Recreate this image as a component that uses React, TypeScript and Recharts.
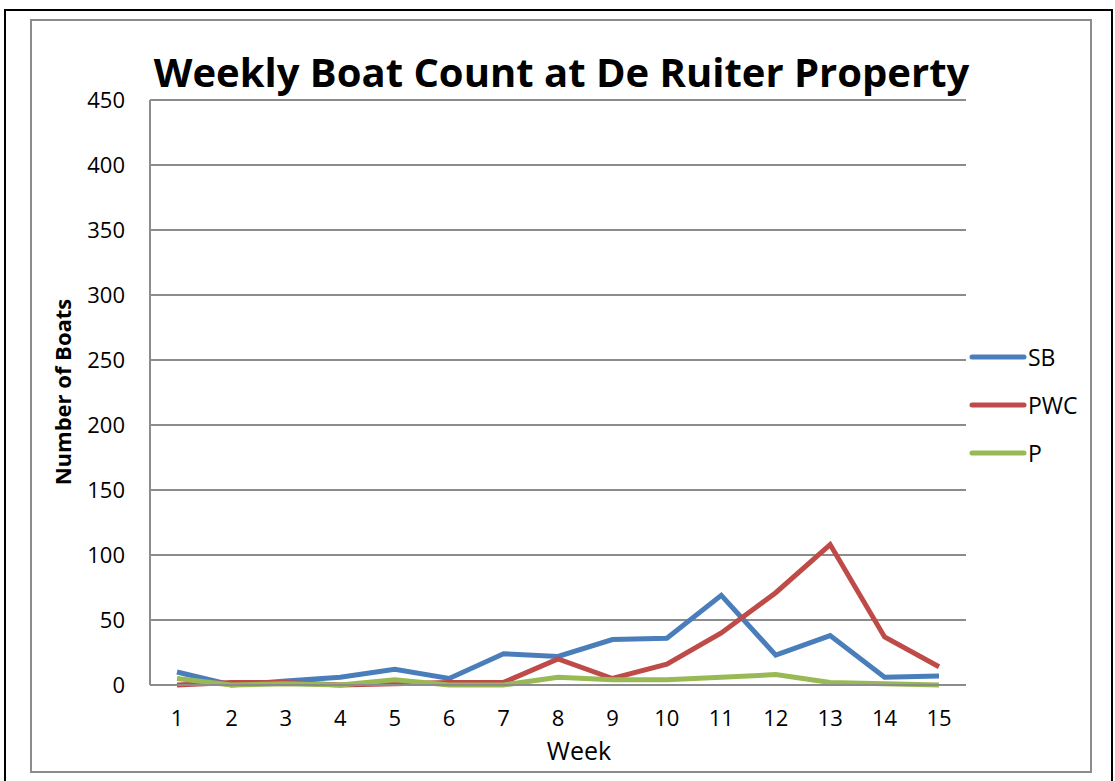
import { LineChart, Line, XAxis, YAxis, CartesianGrid } from "recharts";

const weeks = ["1", "2", "3", "4", "5", "6", "7", "8", "9", "10", "11", "12", "13", "14", "15"];
const sb = [10, 0, 3, 6, 12, 5, 24, 22, 35, 36, 69, 23, 38, 6, 7];
const pwc = [0, 2, 2, 0, 1, 2, 2, 20, 5, 16, 40, 71, 108, 37, 14];
const p = [5, 0, 1, 0, 4, 0, 0, 6, 4, 4, 6, 8, 2, 1, 0];
const yTicks = [0, 50, 100, 150, 200, 250, 300, 350, 400, 450];

const series = [
  { key: "SB", color: "#4A7EBB" },
  { key: "PWC", color: "#BE4B48" },
  { key: "P", color: "#98B954" },
];

const font = "'Open Sans', sans-serif";

const LegendBox = () => (
  <div style={{ fontFamily: font, fontSize: 23, color: "#000" }}>
    {series.map((s) => (
      <div key={s.key} style={{ display: "flex", alignItems: "center", height: 48 }}>
        <svg width={58} height={10}>
          <line x1={3} y1={5} x2={55} y2={5} stroke={s.color} strokeWidth={5} strokeLinecap="round" />
        </svg>
        <span style={{ marginLeft: 1 }}>{s.key}</span>
      </div>
    ))}
  </div>
);

const App = () => {
  const data = weeks.map((w, i) => ({ week: w, SB: sb[i], PWC: pwc[i], P: p[i] }));

  return (
    <div style={{ position: "absolute", left: 0, top: 0, width: 1115, height: 781, background: "#fff", overflow: "hidden" }}>
      {/* outer black frame */}
      <div style={{ position: "absolute", left: 4, top: 9, width: 1109, height: 790, border: "2px solid #000", boxSizing: "border-box" }} />
      {/* chart area frame */}
      <div style={{ position: "absolute", left: 30, top: 19, width: 1062, height: 754, border: "2px solid #8c8c8c", boxSizing: "border-box" }} />

      <div
        style={{
          position: "absolute",
          left: 0,
          width: 1123,
          top: 44,
          textAlign: "center",
          fontFamily: font,
          fontWeight: 700,
          fontSize: 40,
          lineHeight: "56px",
          color: "#000",
        }}
      >
        Weekly Boat Count at De Ruiter Property
      </div>

      <div
        style={{
          position: "absolute",
          left: 62,
          top: 392,
          transform: "translate(-50%, -50%) rotate(-90deg)",
          fontFamily: font,
          fontWeight: 700,
          fontSize: 22,
          whiteSpace: "nowrap",
        }}
      >
        Number of Boats
      </div>

      <div
        style={{
          position: "absolute",
          left: 579,
          top: 750,
          transform: "translate(-50%, -50%)",
          fontFamily: font,
          fontSize: 25,
        }}
      >
        Week
      </div>

      <div style={{ position: "absolute", left: 969, top: 333, width: 140 }}>
        <LegendBox />
      </div>

      <div style={{ position: "absolute", left: 0, top: 0 }}>
        <LineChart width={1115} height={781} data={data} margin={{ top: 100, right: 149, bottom: 0, left: 0 }}>
          <CartesianGrid vertical={false} stroke="#8c8c8c" strokeWidth={2} />
          <XAxis
            dataKey="week"
            padding={{ left: 27, right: 27 }}
            height={96}
            stroke="#8c8c8c"
            strokeWidth={2}
            tickLine={false}
            tickSize={6}
            tickMargin={19}
            tick={{ fill: "#000", fontFamily: font, fontSize: 22 }}
            interval={0}
          />
          <YAxis
            width={150}
            domain={[0, 450]}
            ticks={yTicks}
            stroke="#8c8c8c"
            strokeWidth={2}
            tickLine={false}
            tickSize={6}
            tickMargin={19}
            tick={{ fill: "#000", fontFamily: font, fontSize: 22 }}
          />
          {series.map((s) => (
            <Line
              key={s.key}
              type="linear"
              dataKey={s.key}
              stroke={s.color}
              strokeWidth={5}
              dot={false}
              isAnimationActive={false}
            />
          ))}
        </LineChart>
      </div>
    </div>
  );
};

export default App;
